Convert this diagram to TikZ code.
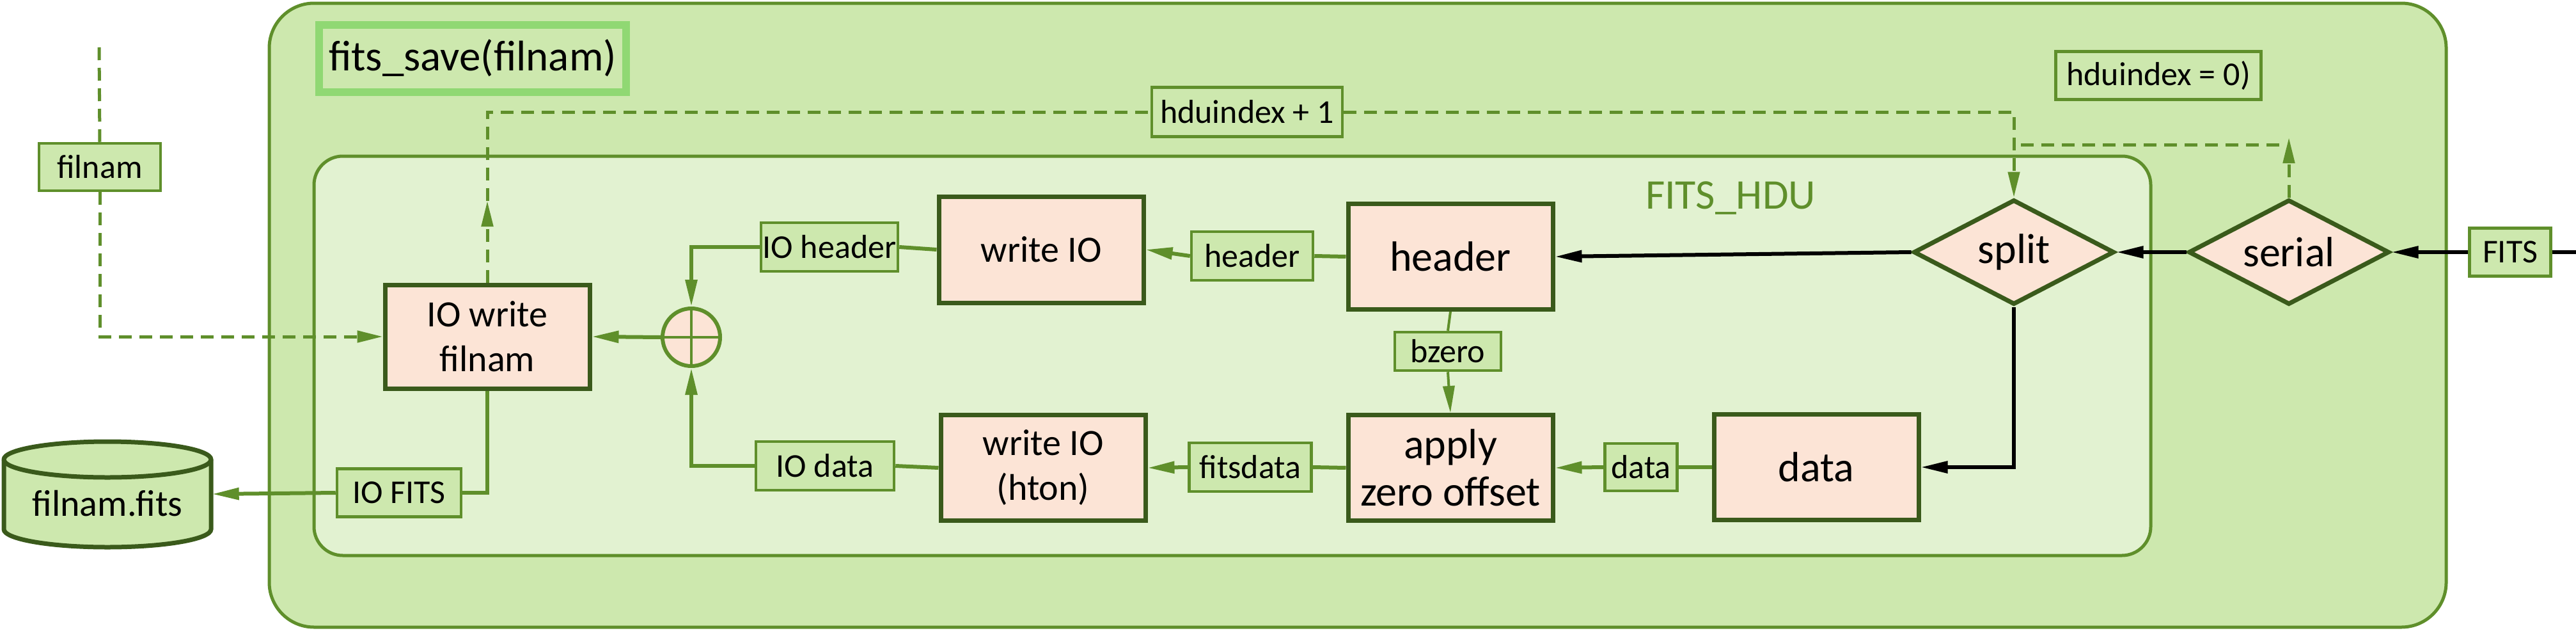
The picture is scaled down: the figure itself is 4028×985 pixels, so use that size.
\documentclass[tikz,border=0pt]{standalone}
\usepackage{fontspec}
\setmainfont{Carlito}
\usetikzlibrary{arrows.meta,shapes.geometric}
\definecolor{outerfill}{HTML}{CDE8AE}
\definecolor{innerfill}{HTML}{E2F2D1}
\definecolor{labfill}{HTML}{CDE8AE}
\definecolor{gb}{HTML}{5F8F2B}
\definecolor{dk}{HTML}{3A5A1B}
\definecolor{peach}{HTML}{FCE4D6}
\definecolor{titleb}{HTML}{90D873}
\begin{document}
\begin{tikzpicture}[x=1pt,y=-1pt,
  lab/.style={draw=gb, line width=4.5pt, fill=labfill, inner sep=0pt, minimum height=76pt, font=\fontsize{52}{62}\selectfont},
  proc/.style={draw=dk, line width=7pt, fill=peach, inner sep=0pt, minimum width=320pt, minimum height=165pt, align=center},
  bigf/.style={font=\fontsize{66}{74}\selectfont},
  midf/.style={font=\fontsize{58}{70}\selectfont},
  dia/.style={diamond, aspect=1.9, draw=dk, line width=7pt, fill=peach, inner sep=0pt, minimum width=314pt, minimum height=164pt, font=\fontsize{66}{74}\selectfont},
  gline/.style={draw=gb, line width=6pt},
  garrow/.style={gline, -{Triangle[length=42pt,width=18pt]}},
  gdash/.style={draw=gb, line width=5pt, dash pattern=on 20pt off 12pt},
  gdarrow/.style={gdash, -{Triangle[length=40pt,width=18pt]}},
  barrow/.style={draw=black, line width=6pt, -{Triangle[length=42pt,width=18pt]}},
]
\useasboundingbox (0,0) rectangle (4028,985);
% containers
\draw[fill=outerfill, draw=gb, line width=5pt, rounded corners=70pt] (421,5) rectangle (3825,980);
\node[draw=titleb, line width=12pt, fill=labfill, minimum width=480pt, minimum height=105pt, inner sep=0pt, font=\fontsize{67}{75}\selectfont] (title) at (739,91) {fits\_save(filnam)};
\draw[fill=innerfill, draw=gb, line width=5pt, rounded corners=45pt] (491,244) rectangle (3363,868);
\node[text=gb, font=\fontsize{66}{74}\selectfont, inner sep=0pt] (hdulab) at (2706,310) {FITS\_HDU};

% cylinder
\path[fill=labfill, draw=dk, line width=7pt] (6,718) -- (6,827) arc[start angle=180, end angle=360, x radius=162pt, y radius=28pt] -- (330,718) arc[start angle=0, end angle=180, x radius=162pt, y radius=28pt] -- cycle;
\draw[dk, line width=7pt] (6,718) arc[start angle=180, end angle=360, x radius=162pt, y radius=28pt];
\node[minimum width=327pt, minimum height=165pt, inner sep=0pt] (cyl) at (168,772) {};
\node[font=\fontsize{58}{70}\selectfont, inner sep=0pt] (cyltxt) at (168,787) {filnam.fits};

% nodes
\node[lab, minimum width=190pt, minimum height=74pt] (filnam) at (156,261) {filnam};
\coordinate (fTop) at (155,74);
\node[proc, midf, minimum height=162pt] (iow) at (762,526) {IO write\\filnam};
\node[circle, draw=gb, line width=6pt, fill=peach, minimum size=90pt, inner sep=0pt] (sum) at (1081,527) {};
\node[lab, minimum width=214pt] (ioh) at (1297,386) {IO header};
\node[proc, midf, minimum height=166pt] (wio) at (1628,390) {write IO};
\node[lab, minimum width=190pt] (hl) at (1958,400) {header};
\node[proc, bigf] (hdr) at (2268,401) {header};
\node[lab, minimum width=166pt, minimum height=60pt] (bz) at (2264,549) {bzero};
\node[proc, bigf] (apz) at (2268,731) {apply\\zero offset};
\node[lab, minimum width=191pt] (fd) at (1955,730) {fitsdata};
\node[proc, midf] (wh) at (1631,731) {write IO\\(hton)};
\node[lab, minimum width=216pt] (iod) at (1290,728) {IO data};
\node[lab, minimum width=113pt, minimum height=74pt] (dl) at (2566,730) {data};
\node[proc, bigf] (dat) at (2840,730) {data};
\node[dia] (split) at (3149,394) {split};
\node[dia] (serial) at (3579,394) {serial};
\node[lab, minimum width=127pt, minimum height=75pt] (fits) at (3925,394) {FITS};
\coordinate (fitsR) at (4045,394);
\node[lab, minimum width=321pt, minimum height=75pt] (hdu0) at (3375,118) {hduindex = 0)};
\node[lab, minimum width=298pt, minimum height=77pt] (hdup) at (1950,175) {hduindex + 1};
\node[lab, minimum width=194pt, minimum height=75pt] (iof) at (624,770) {IO FITS};

% dashed control flow
\draw[gdash] (fTop) -- (filnam.north);
\draw[gdarrow] (filnam.south) |- (iow.west);
\coordinate (upTip) at (762,314);
\draw[gdarrow] (iow.north) -- (upTip);
\draw[gdash] (upTip) |- (hdup.west);
\draw[gdarrow] (hdup.east) -| (split.north);
\coordinate (jl) at (3160,226);
\coordinate (jr) at (3566,226);
\draw[gdash] (jl) -- (jr);
\coordinate (sTip) at (3579,215);
\draw[gdarrow] (serial.north) -- (sTip);

% green data flow
\draw[gline] (iow.south) |- (iof.east);
\draw[garrow] (iof.west) -- (cyl.east);
\draw[garrow] (sum.west) -- (iow.east);
\draw[gb, line width=4pt] (sum.north) -- (sum.south) (sum.west) -- (sum.east);
\draw[garrow] (ioh.west) -| (sum.north);
\draw[garrow] (iod.west) -| (sum.south);
\draw[gline] (wio.west) -- (ioh.east);
\draw[garrow] (hl.west) -- (wio.east);
\draw[gline] (hdr.west) -- (hl.east);
\draw[gline, line width=4pt] (hdr.south) -- (bz.north);
\draw[garrow, line width=4pt] (bz.south) -- (apz.north);
\draw[gline] (apz.west) -- (fd.east);
\draw[garrow] (fd.west) -- (wh.east);
\draw[gline] (wh.west) -- (iod.east);
\draw[gline] (dat.west) -- (dl.east);
\draw[garrow] (dl.west) -- (apz.east);

% black flow
\draw[barrow] (split.west) -- (hdr.east);
\draw[barrow] (split.south) |- (dat.east);
\draw[barrow] (serial.west) -- (split.east);
\draw[barrow] (fits.west) -- (serial.east);
\draw[black, line width=6pt] (fits.east) -- (fitsR);
\end{tikzpicture}
\end{document}
